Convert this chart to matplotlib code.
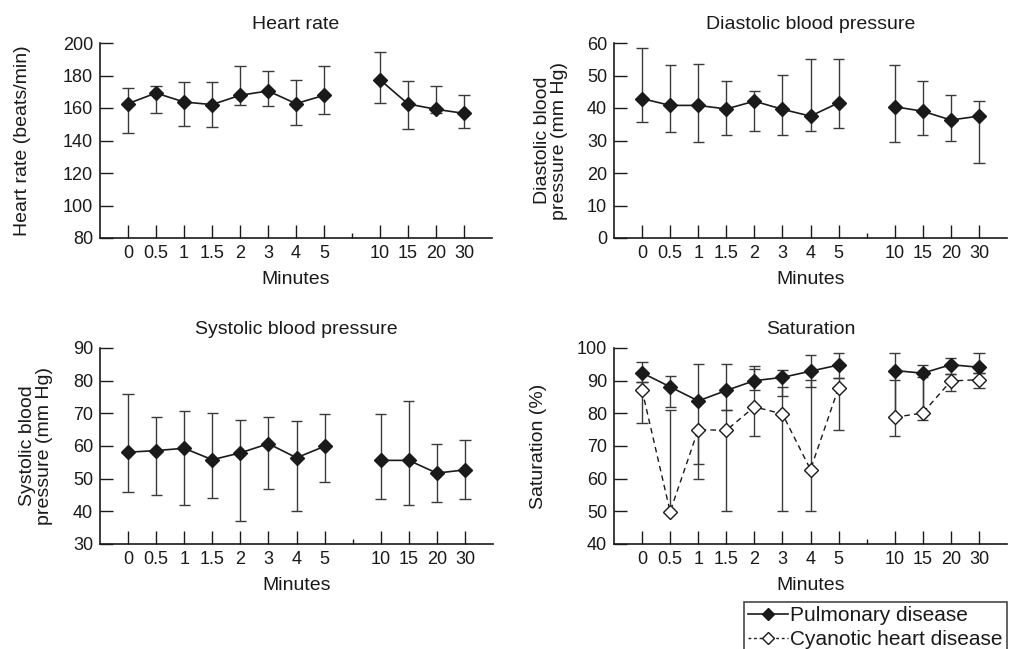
"""
Four panels: heart rate, diastolic / systolic blood pressure and saturation over minutes
"""

import numpy as np
import matplotlib
matplotlib.use('Agg')
import matplotlib.pyplot as plt
from matplotlib.lines import Line2D

plt.rcParams['font.family'] = ['Liberation Sans', 'DejaVu Sans']

nan = np.nan

# x categories (break between 5 and 10)
minutes = ['0', '0.5', '1', '1.5', '2', '3', '4', '5', '10', '15', '20', '30']

# heart rate (beats/min)
hr_mean = [162.7, 169.2, 163.7, 162.1, 167.8, 170.5, 162.7, 167.8, 177.4, 162.5, 159.2, 156.7]
hr_lo = [144.6, 156.9, 148.9, 148.1, 161.8, 161.4, 149.3, 156.3, 162.9, 146.9, 156.9, 147.7]
hr_hi = [172.3, 173.7, 175.8, 175.8, 185.8, 182.8, 177.4, 185.6, 194.7, 176.8, 173.3, 167.8]

# diastolic blood pressure (mm Hg)
dia_mean = [42.9, 40.8, 40.8, 39.7, 42.1, 39.6, 37.5, 41.6, 40.4, 39.0, 36.3, 37.5]
dia_lo = [35.7, 32.5, 29.5, 31.7, 32.8, 31.7, 32.8, 33.9, 29.5, 31.7, 29.7, 23.2]
dia_hi = [58.4, 53.1, 53.4, 48.3, 45.3, 50.2, 55.1, 55.1, 53.1, 48.3, 43.9, 42.1]

# systolic blood pressure (mm Hg)
sys_mean = [58.1, 58.6, 59.3, 55.8, 57.9, 60.7, 56.4, 59.9, 55.6, 55.6, 51.7, 52.7]
sys_lo = [46.0, 44.9, 42.0, 44.2, 37.1, 46.9, 40.0, 49.1, 43.9, 41.9, 42.9, 43.8]
sys_hi = [75.9, 68.8, 70.8, 70.1, 67.9, 68.8, 67.6, 69.9, 69.9, 73.8, 60.6, 61.9]

# saturation (%)
sat_pul = [92.4, 88.1, 83.8, 87.0, 90.0, 91.0, 92.9, 94.8, 93.1, 92.3, 94.9, 94.1]
sat_pul_lo = [89.6, 81.9, 64.5, 81.0, 87.0, 85.2, 88.1, 90.8, 73.1, 78.1, 92.0, 92.4]
sat_pul_hi = [95.6, 91.4, 95.1, 95.1, 94.5, 93.3, 97.8, 98.4, 98.4, 94.9, 96.9, 98.4]
sat_cya = [87.1, 49.9, 75.0, 74.8, 82.0, 79.8, 62.8, 87.8, 78.8, 80.1, 89.9, 90.3]
sat_cya_lo = [77.0, nan, 59.9, 50.0, 73.1, 50.0, 50.0, 74.9, nan, nan, 86.9, 87.9]
sat_cya_hi = [89.6, 81.1, nan, 81.0, 93.6, 88.0, 90.1, 90.8, 90.2, 91.1, 92.0, 92.4]

INK = '#1a1a1a'
BAR = '#3a3a3a'
FS = 14      # titles / labels
TFS = 13     # tick labels

# category positions, one empty slot for the axis break
pos = np.r_[np.arange(8), np.arange(9, 13)].astype(float)
BREAK = 8


def whiskers(ax, x, y, lo, hi, w=0.2):
    """vertical bars with caps, nan = no whisker on that side"""
    y = np.asarray(y, float)
    lo = np.asarray(lo, float)
    hi = np.asarray(hi, float)
    lo_ = np.where(np.isnan(lo), y, lo)
    hi_ = np.where(np.isnan(hi), y, hi)
    ax.vlines(x, lo_, hi_, color=BAR, lw=1.0, zorder=2)
    for e in (lo, hi):
        m = ~np.isnan(e)
        ax.hlines(e[m], x[m] - w, x[m] + w, color=BAR, lw=1.0, zorder=2)


def series(ax, y, filled=True, dashed=False):
    y = np.asarray(y, float)
    for sl in (slice(0, 8), slice(8, 12)):
        line, = ax.plot(pos[sl], y[sl], color=INK, lw=1.2, zorder=3)
        if dashed:
            line.set_dashes((4, 3))
            line.set_linewidth(1.0)
        ax.plot(pos[sl], y[sl], ls='none', marker='D', markersize=7,
                markerfacecolor=INK if filled else 'white',
                markeredgecolor=INK, markeredgewidth=1.0, zorder=4)


def style(ax, title, ylabel, ylim, yticks, ylab_x):
    ax.set_xlim(-1, 13)
    ax.set_ylim(*ylim)
    ax.set_yticks(yticks)
    ax.set_xticks(pos)
    ax.set_xticklabels(minutes)
    ax.set_xticks([BREAK], minor=True)
    for s in ('top', 'right'):
        ax.spines[s].set_visible(False)
    for s in ('left', 'bottom'):
        ax.spines[s].set_color(INK)
        ax.spines[s].set_linewidth(1.2)
    ax.tick_params(axis='both', which='major', direction='in', length=9.5,
                   width=1.0, color=INK, labelsize=TFS, pad=5, labelcolor=INK)
    ax.tick_params(axis='x', which='minor', direction='in', length=3.5,
                   width=1.0, color=INK)
    ax.set_title(title, fontsize=FS, pad=10, color=INK)
    ax.set_ylabel(ylabel, fontsize=FS, color=INK, linespacing=1.0)
    ax.yaxis.set_label_coords(ylab_x, 0.5)
    ax.set_xlabel('Minutes', fontsize=FS, color=INK)
    ax.xaxis.set_label_coords(0.5, -0.17)


fig = plt.figure(figsize=(10.1, 6.49), dpi=100)
W, H = 1010, 649


def add_axes(l, t, r, b):
    return fig.add_axes([l / W, 1 - b / H, (r - l) / W, (b - t) / H])


ax_hr = add_axes(100, 43, 492, 238)
ax_dia = add_axes(614, 43, 1007, 238)
ax_sys = add_axes(100, 348, 493, 544)
ax_sat = add_axes(614, 348, 1007, 544)

# Heart rate
whiskers(ax_hr, pos, hr_mean, hr_lo, hr_hi)
series(ax_hr, hr_mean)
style(ax_hr, 'Heart rate', 'Heart rate (beats/min)', (80, 200),
      np.arange(80, 201, 20), -0.175)

# Diastolic
whiskers(ax_dia, pos, dia_mean, dia_lo, dia_hi)
series(ax_dia, dia_mean)
style(ax_dia, 'Diastolic blood pressure', 'Diastolic blood\npressure (mm Hg)',
      (0, 60), np.arange(0, 61, 10), -0.117)

# Systolic
whiskers(ax_sys, pos, sys_mean, sys_lo, sys_hi)
series(ax_sys, sys_mean)
style(ax_sys, 'Systolic blood pressure', 'Systolic blood\npressure (mm Hg)',
      (30, 90), np.arange(30, 91, 10), -0.12)

# Saturation
whiskers(ax_sat, pos, sat_pul, sat_pul_lo, sat_pul_hi)
whiskers(ax_sat, pos, sat_cya, sat_cya_lo, sat_cya_hi)
series(ax_sat, sat_cya, filled=False, dashed=True)
series(ax_sat, sat_pul)
style(ax_sat, 'Saturation', 'Saturation (%)', (40, 100),
      np.arange(40, 101, 10), -0.17)

handles = [
    Line2D([], [], color=INK, lw=1.2, marker='D', markersize=6,
           markerfacecolor=INK, markeredgecolor=INK),
    Line2D([], [], color=INK, lw=1.0, ls=(0, (2, 2)), marker='D', markersize=6,
           markerfacecolor='white', markeredgecolor=INK),
]
leg = fig.legend(handles, ['Pulmonary disease', 'Cyanotic heart disease'],
                 loc='upper left', bbox_to_anchor=(744 / W, 1 - 602 / H),
                 borderaxespad=0, fontsize=15, frameon=True, fancybox=False,
                 borderpad=0.2, handlelength=1.9, handletextpad=0.1,
                 labelspacing=0.25)
leg.get_frame().set_edgecolor(INK)
leg.get_frame().set_linewidth(1.2)
for t in leg.get_texts():
    t.set_color(INK)

fig.savefig('out.png', dpi=100)
